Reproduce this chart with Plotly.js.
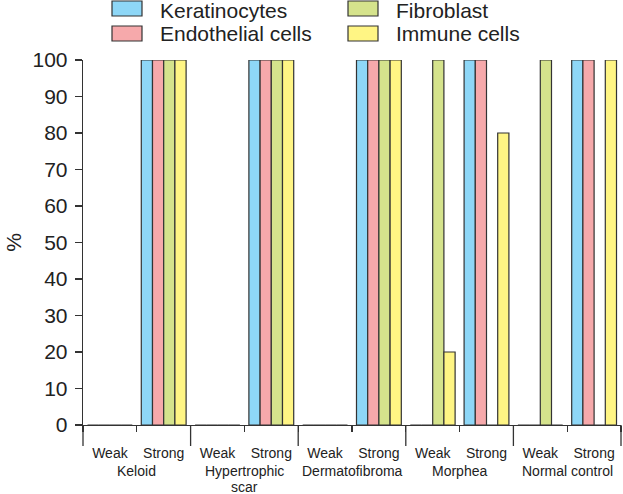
<!DOCTYPE html>
<html>
<head>
<meta charset="utf-8">
<script src="https://cdn.plot.ly/plotly-3.0.1.min.js"></script>
<style>html,body{margin:0;padding:0;background:#fff;}#chart{width:623px;height:494px;}</style>
</head>
<body>
<div id="chart"></div>
<script>
// ---- data ----
const groups = ['Keloid', 'Hypertrophic scar', 'Dermatofibroma', 'Morphea', 'Normal control'];
const groupLabels = ['Keloid', 'Hypertrophic<br>scar', 'Dermatofibroma', 'Morphea', 'Normal control'];
const levels = ['Weak', 'Strong'];
const seriesNames = ['Keratinocytes', 'Endothelial cells', 'Fibroblast', 'Immune cells'];
const seriesColors = ['#8ed7f7', '#f6a9ab', '#d5e38c', '#fff584'];
// values in order: Keloid Weak, Keloid Strong, Hypertrophic Weak, Strong, Dermatofibroma Weak, Strong, Morphea Weak, Strong, Normal Weak, Strong
const keratinocytes = [0, 100, 0, 100, 0, 100, 0, 100, 0, 100];
const endothelial   = [0, 100, 0, 100, 0, 100, 0, 100, 0, 100];
const fibroblast    = [0, 100, 0, 100, 0, 100, 100, 0, 100, 0];
const immune        = [0, 100, 0, 100, 0, 100, 20, 80, 0, 100];
const yTicks = [0, 10, 20, 30, 40, 50, 60, 70, 80, 90, 100];

// ---- build ----
const cats = [];
const catText = [];
groups.forEach(g => levels.forEach(l => { cats.push(g + ' ' + l); catText.push(l); }));
const seriesValues = [keratinocytes, endothelial, fibroblast, immune];
const FONT = 'Liberation Sans, Arial, sans-serif';
const INK = '#333333';

const traces = seriesNames.map((name, i) => ({
  type: 'bar', name: name, x: cats, y: seriesValues[i],
  marker: {color: seriesColors[i], line: {color: INK, width: 1.2}},
  cliponaxis: false, showlegend: false, hoverinfo: 'x+y+name'
}));

const shapes = [];
const annotations = [];
const n = cats.length;
// long divider ticks at group boundaries
for (let g = 0; g <= groups.length; g++) {
  shapes.push({type: 'line', xref: 'paper', yref: 'paper', ysizemode: 'pixel', yanchor: 0,
    x0: g * levels.length / n, x1: g * levels.length / n, y0: 0, y1: -21,
    line: {color: INK, width: 1.3}, layer: 'above'});
}
// group labels (one annotation per line, tight line spacing)
groups.forEach((g, i) => {
  groupLabels[i].split('<br>').forEach((line, k) => {
    annotations.push({xref: 'paper', yref: 'paper', x: (i * levels.length + levels.length / 2) / n, y: 0,
      yanchor: 'middle', xanchor: 'center', yshift: -46 - 15.5 * k, showarrow: false, text: line,
      borderpad: 0, font: {family: FONT, size: 14, color: '#222'}});
  });
});
// custom legend (2 columns x 2 rows, column-major)
const legCols = [29, 265];   // px offset from plot left for boxes
const legRows = [[44, 59, 49.5], [19, 34, 26.5]]; // box y0, y1, text yshift (px above plot top)
seriesNames.forEach((name, i) => {
  const c = Math.floor(i / 2), r = i % 2;
  shapes.push({type: 'rect', xref: 'paper', yref: 'paper', xsizemode: 'pixel', ysizemode: 'pixel',
    xanchor: 0, yanchor: 1, x0: legCols[c], x1: legCols[c] + 30, y0: legRows[r][0], y1: legRows[r][1],
    fillcolor: seriesColors[i], line: {color: INK, width: 1.2}});
  annotations.push({xref: 'paper', yref: 'paper', x: 0, y: 1, xanchor: 'left', yanchor: 'middle',
    xshift: legCols[c] + 47, yshift: legRows[r][2], showarrow: false, text: name, borderpad: 0,
    font: {family: FONT, size: 21, color: '#222'}});
});

const layout = {
  width: 623, height: 494,
  margin: {l: 83, r: 2, t: 60, b: 69},
  paper_bgcolor: '#fff', plot_bgcolor: '#fff',
  font: {family: FONT, color: '#222'},
  barmode: 'group', bargap: 0.167, bargroupgap: 0,
  showlegend: false,
  xaxis: {type: 'category', tickmode: 'array', tickvals: cats, ticktext: catText,
    tickson: 'boundaries', ticks: 'outside', ticklen: 6, tickwidth: 1.3, tickcolor: INK,
    showline: true, linecolor: INK, linewidth: 1.3, showgrid: false, zeroline: false,
    tickfont: {family: FONT, size: 14, color: '#222'}, ticklabelstandoff: 15, fixedrange: true},
  yaxis: {range: [0, 100], tickmode: 'array', tickvals: yTicks, ticks: 'outside', ticklen: 7,
    tickwidth: 1.3, tickcolor: INK, showline: true, linecolor: INK, linewidth: 1.3,
    showgrid: false, zeroline: false, tickfont: {family: FONT, size: 21, color: '#222'},
    ticklabelstandoff: 3,
    title: {text: '%', font: {family: FONT, size: 21, color: '#222'}, standoff: 5}, fixedrange: true},
  shapes: shapes, annotations: annotations
};

Plotly.newPlot('chart', traces, layout, {displayModeBar: false, staticPlot: true});
</script>
</body>
</html>
